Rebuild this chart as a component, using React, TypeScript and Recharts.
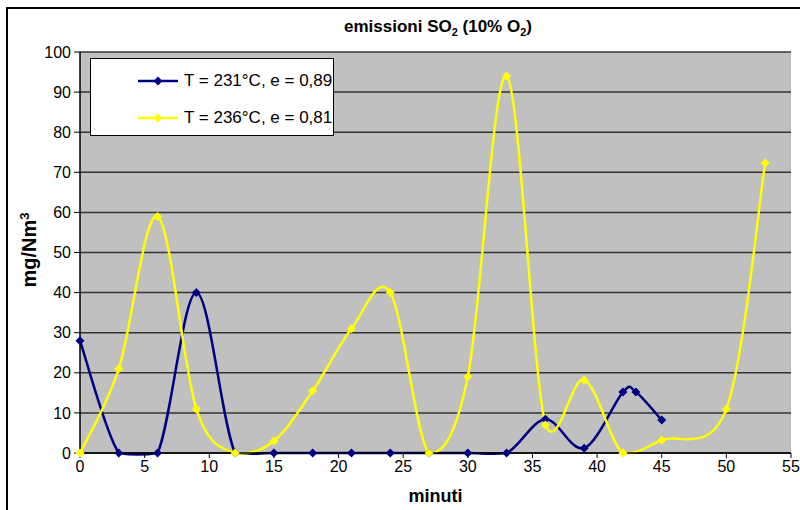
import { LineChart, Line, XAxis, YAxis, CartesianGrid, Legend } from 'recharts';

// minuti / mg/Nm3
const xBlue = [0, 3, 6, 9, 12, 15, 18, 21, 24, 27, 30, 33, 36, 39, 42, 43, 45];
const yBlue = [28, 0, 0, 40, 0, 0, 0, 0, 0, 0, 0, 0, 8.4, 1.2, 15.2, 15.2, 8.2];
const xYellow = [0, 3, 6, 9, 12, 15, 18, 21, 24, 27, 30, 33, 36, 39, 42, 45, 50, 53];
const yYellow = [0, 21, 59, 11, 0, 3, 15.5, 31, 40, 0, 19, 94, 7, 18.2, 0, 3.2, 11, 72.3];

const seriesNames = ['T = 231°C, e = 0,89', 'T = 236°C, e = 0,81'];
const seriesColors = ['#000080', '#FFFF00'];
const xTicks = [0, 5, 10, 15, 20, 25, 30, 35, 40, 45, 50, 55];
const yTicks = [0, 10, 20, 30, 40, 50, 60, 70, 80, 90, 100];

const blueData = xBlue.map((x, i) => ({ x, y: yBlue[i] }));
const yellowData = xYellow.map((x, i) => ({ x, y: yYellow[i] }));

const FONT = '"Liberation Sans", Arial, sans-serif';

// curva liscia tipo Excel (catmull-rom); i punti di controllo non scendono
// piu' di 2px sotto il punto piu' basso (Excel taglia la curva al bordo del grafico)
const excelCurve = (context: any) => {
  let pts: number[][] = [];
  return {
    areaStart() {},
    areaEnd() {},
    lineStart() { pts = []; },
    point(x: number, y: number) { pts.push([+x, +y]); },
    lineEnd() {
      const n = pts.length;
      if (!n) return;
      const floor = Math.max(...pts.map((p) => p[1])) + 2;
      const cl = (v: number) => Math.min(v, floor);
      context.moveTo(pts[0][0], pts[0][1]);
      for (let i = 0; i < n - 1; i++) {
        const p0 = pts[i - 1] || pts[i];
        const p1 = pts[i];
        const p2 = pts[i + 1];
        const p3 = pts[i + 2] || p2;
        context.bezierCurveTo(
          p1[0] + (p2[0] - p0[0]) / 6, cl(p1[1] + (p2[1] - p0[1]) / 6),
          p2[0] - (p3[0] - p1[0]) / 6, cl(p2[1] - (p3[1] - p1[1]) / 6),
          p2[0], p2[1]
        );
      }
    },
  };
};

const diamond = (color: string) => (props: any) => {
  const { cx, cy, index } = props;
  const r = 4.5;
  return (
    <polygon
      key={`d-${index}`}
      points={`${cx},${cy - r} ${cx + r},${cy} ${cx},${cy + r} ${cx - r},${cy}`}
      fill={color}
      stroke="none"
    />
  );
};

const renderLegend = () => (
  <div style={{ border: '1.5px solid #000', background: '#fff', width: 244, height: 78, boxSizing: 'border-box', fontFamily: FONT, fontSize: 17, paddingTop: 3 }}>
    {seriesNames.map((name, i) => (
      <div key={name} style={{ display: 'flex', alignItems: 'center', height: 37, whiteSpace: 'nowrap' }}>
        <svg width={46} height={12} style={{ marginLeft: 45 }}>
          <line x1={2} y1={6} x2={42} y2={6} stroke={seriesColors[i]} strokeWidth={2.5} />
          <polygon points="22,1.5 26.5,6 22,10.5 17.5,6" fill={seriesColors[i]} />
        </svg>
        <span style={{ marginLeft: 2 }}>{name}</span>
      </div>
    ))}
  </div>
);

export default function App() {
  return (
    <div style={{ position: 'absolute', left: 0, top: 0, width: 800, height: 510, background: '#fff', overflow: 'hidden' }}>
      <div style={{ position: 'absolute', left: 6, top: 7, width: 830, height: 530, border: '2px solid #000' }} />
      <div style={{ position: 'absolute', left: 238, width: 400, top: 17, textAlign: 'center', fontFamily: FONT, fontWeight: 'bold', fontSize: 17 }}>
        emissioni SO<sub style={{ fontSize: 11 }}>2</sub> (10% O<sub style={{ fontSize: 11 }}>2</sub>)
      </div>
      <div style={{ position: 'absolute', left: 29, top: 250, transform: 'translate(-50%, -50%) rotate(-90deg)', fontFamily: FONT, fontWeight: 'bold', fontSize: 20, whiteSpace: 'nowrap' }}>
        mg/Nm<sup style={{ fontSize: 13 }}>3</sup>
      </div>
      <div style={{ position: 'absolute', left: 0, top: 0 }}>
        <LineChart width={800} height={510} margin={{ top: 52, right: 9, bottom: 7, left: 20 }}>
          <CartesianGrid fill="#C0C0C0" vertical={false} stroke="#333" strokeWidth={1.5} horizontalValues={yTicks} />
          <XAxis
            type="number"
            dataKey="x"
            domain={[0, 55]}
            ticks={xTicks}
            height={50}
            tick={{ fontFamily: FONT, fontSize: 16, fill: '#000' }}
            tickLine={{ stroke: '#000' }}
            axisLine={{ stroke: '#000', strokeWidth: 1.5 }}
            tickSize={5}
            tickMargin={3}
            label={{ value: 'minuti', position: 'insideBottom', offset: 1, style: { fontFamily: FONT, fontWeight: 'bold', fontSize: 18, fill: '#000' } }}
          />
          <YAxis
            type="number"
            domain={[0, 100]}
            ticks={yTicks}
            width={60}
            tick={{ fontFamily: FONT, fontSize: 16, fill: '#000' }}
            tickLine={{ stroke: '#000' }}
            axisLine={{ stroke: '#000', strokeWidth: 1.5 }}
            tickSize={6}
            tickMargin={3}
          />
          <Legend layout="vertical" align="center" verticalAlign="middle" content={renderLegend} wrapperStyle={{ left: 90, top: 58, width: 244, height: 78 }} />
          <Line data={blueData} dataKey="y" name={seriesNames[0]} type={excelCurve as any} stroke={seriesColors[0]} strokeWidth={2.5} dot={diamond(seriesColors[0])} activeDot={false} isAnimationActive={false} />
          <Line data={yellowData} dataKey="y" name={seriesNames[1]} type={excelCurve as any} stroke={seriesColors[1]} strokeWidth={2.5} dot={diamond(seriesColors[1])} activeDot={false} isAnimationActive={false} />
        </LineChart>
      </div>
    </div>
  );
}
